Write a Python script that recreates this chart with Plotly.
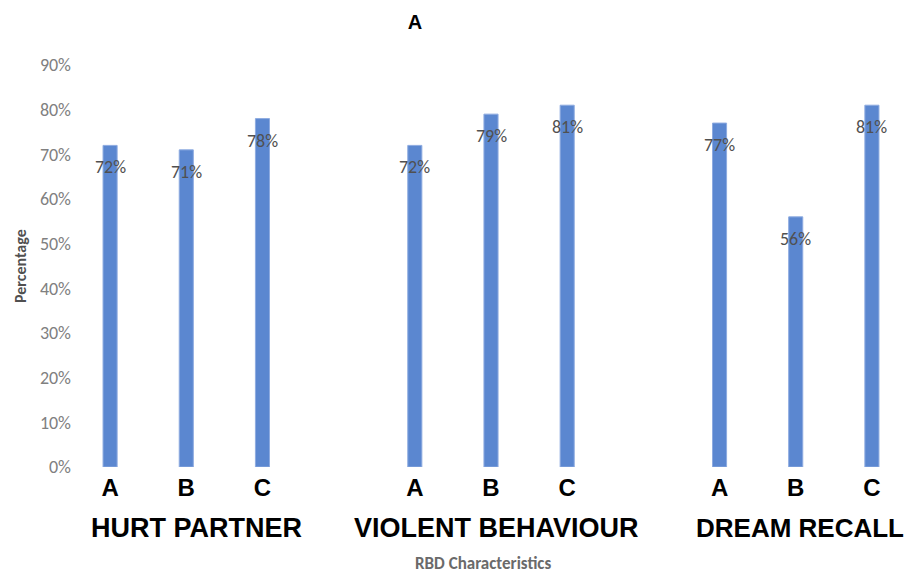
import plotly.graph_objects as go

groups = ["HURT PARTNER", "VIOLENT BEHAVIOUR", "DREAM RECALL"]
subgroups = ["A", "B", "C"]
values = {
    "HURT PARTNER": [0.72, 0.71, 0.78],
    "VIOLENT BEHAVIOUR": [0.72, 0.79, 0.81],
    "DREAM RECALL": [0.77, 0.56, 0.81],
}
y_ticks = [0, 0.1, 0.2, 0.3, 0.4, 0.5, 0.6, 0.7, 0.8, 0.9]

# category list with an empty slot between groups
cats = []
bar_x, bar_y, tick_text = [], [], []
for i, g in enumerate(groups):
    if i > 0:
        cats.append(" " * i)
    for s, v in zip(subgroups, values[g]):
        key = g + "|" + s
        cats.append(key)
        bar_x.append(key)
        bar_y.append(v)
        tick_text.append(s)

body_font = "Carlito, Lato, sans-serif"
bold_font = "Liberation Sans, Arial"

fig = go.Figure()
fig.add_trace(go.Bar(
    x=bar_x,
    y=bar_y,
    marker=dict(color="#5b87d0", line=dict(color="#8eabe0", width=1)),
    hoverinfo="skip",
))

for x, v in zip(bar_x, bar_y):
    fig.add_annotation(
        x=x, y=v, xref="x", yref="y",
        text=f"{round(v * 100)}%",
        showarrow=False, yshift=-22,
        font=dict(family=body_font, size=18, color="#505050"),
    )

# group names under the middle bar, nudged a little to the right
for g, dx, fs in zip(groups, [10, 5, 4], [27, 27, 26]):
    fig.add_annotation(
        x=g + "|B", y=0, xref="x", yref="paper",
        text=f"<b>{g}</b>",
        showarrow=False, yshift=-61, xshift=dx, yanchor="middle",
        font=dict(family=bold_font, size=fs, color="black"),
    )

fig.add_annotation(
    x=0.49, y=0, xref="paper", yref="paper", text="<b>RBD Characteristics</b>",
    showarrow=False, yshift=-96, yanchor="middle",
    font=dict(family=body_font, size=17, color="#6a6a6a"),
)
fig.add_annotation(
    x=0, y=0.5, xref="paper", yref="paper", text="<b>Percentage</b>",
    showarrow=False, xshift=-52, textangle=-90, xanchor="center", yanchor="middle",
    font=dict(family=body_font, size=16, color="#505050"),
)

# the page adds an 8px body margin, so the figure is sized to fit the window
fig.update_layout(
    width=904, height=565,
    paper_bgcolor="white", plot_bgcolor="white",
    margin=dict(l=64, r=2, t=57, b=106),
    bargap=0.815,
    showlegend=False,
    title=dict(text="<b>A</b>", x=407 / 904, xanchor="center", y=1 - 14 / 565, yanchor="middle",
               font=dict(family=bold_font, size=20, color="black")),
)
fig.update_xaxes(
    type="category", categoryorder="array", categoryarray=cats,
    tickvals=bar_x, ticktext=[f"<b>{t}</b>" for t in tick_text],
    tickfont=dict(family=bold_font, size=24, color="black"),
    range=[-0.5, len(cats) - 0.5],
    showgrid=False, showline=False, zeroline=False, ticks="",
    ticklabelstandoff=4,
)
fig.update_yaxes(
    range=[0, 0.9], tickvals=y_ticks, tickformat=".0%",
    tickfont=dict(family=body_font, size=18, color="#808080"),
    showgrid=False, showline=False, zeroline=False, ticks="",
)

fig.write_html("out.html")
